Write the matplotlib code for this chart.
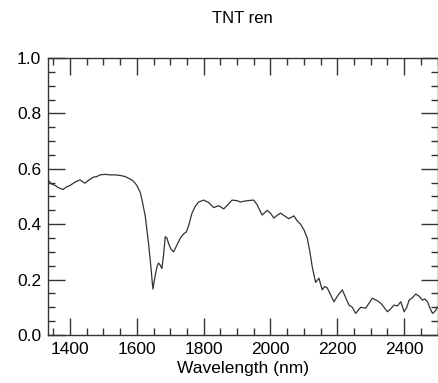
# TNT reflectance spectrum, redrawn from the reference figure
import matplotlib
matplotlib.use('Agg')
import matplotlib.pyplot as plt
from matplotlib.ticker import MultipleLocator

plt.rcParams['font.family'] = ['Liberation Sans', 'DejaVu Sans']

wavelength = [1334, 1345, 1355, 1365, 1379, 1390, 1400, 1410, 1420, 1430,
              1438, 1445, 1455, 1470, 1480, 1490, 1505, 1520, 1535, 1550,
              1565, 1580, 1590, 1600, 1610, 1615, 1625, 1635, 1642, 1648,
              1655, 1660, 1665, 1670, 1675, 1680, 1685, 1690, 1695, 1702,
              1710, 1720, 1730, 1740, 1748, 1755, 1765, 1775, 1785, 1800,
              1815, 1830, 1845, 1860, 1872, 1885, 1900, 1910, 1925, 1940,
              1950, 1960, 1975, 1990, 2000, 2010, 2020, 2030, 2042, 2055,
              2070, 2080, 2090, 2100, 2110, 2118, 2125, 2135, 2145, 2155,
              2162, 2170, 2180, 2190, 2200, 2215, 2225, 2235, 2245, 2255,
              2263, 2270, 2285, 2295, 2305, 2318, 2330, 2340, 2350, 2360,
              2370, 2380, 2390, 2400, 2408, 2415, 2425, 2435, 2445, 2455,
              2462, 2470, 2478, 2485, 2492, 2500]
reflectance = [0.560, 0.545, 0.540, 0.532, 0.525, 0.535, 0.540, 0.548, 0.555, 0.560,
               0.553, 0.548, 0.558, 0.570, 0.572, 0.578, 0.580, 0.578, 0.578, 0.576,
               0.572, 0.563, 0.555, 0.540, 0.515, 0.490, 0.430, 0.330, 0.246, 0.166,
               0.215, 0.245, 0.260, 0.252, 0.240, 0.290, 0.355, 0.350, 0.330, 0.310,
               0.300, 0.325, 0.350, 0.365, 0.372, 0.395, 0.440, 0.465, 0.480, 0.487,
               0.478, 0.460, 0.467, 0.455, 0.470, 0.487, 0.485, 0.480, 0.484, 0.486,
               0.487, 0.470, 0.433, 0.450, 0.440, 0.422, 0.432, 0.440, 0.430, 0.420,
               0.430, 0.412, 0.400, 0.380, 0.350, 0.300, 0.246, 0.190, 0.205, 0.163,
               0.175, 0.170, 0.145, 0.120, 0.140, 0.163, 0.135, 0.108, 0.100, 0.078,
               0.090, 0.100, 0.097, 0.115, 0.133, 0.125, 0.115, 0.100, 0.084, 0.095,
               0.108, 0.105, 0.120, 0.084, 0.100, 0.126, 0.135, 0.148, 0.140, 0.126,
               0.130, 0.120, 0.095, 0.078, 0.085, 0.100]

fig = plt.figure(figsize=(4.38, 3.83), dpi=100)
ax = fig.add_axes([0.1096, 0.1253, 0.8893, 0.7233])

ax.plot(wavelength, reflectance, color='#333333', lw=0.9)

ax.set_xlim(1334, 2500)
ax.set_ylim(0.0, 1.0)
ax.xaxis.set_major_locator(MultipleLocator(200))
ax.xaxis.set_minor_locator(MultipleLocator(50))
ax.yaxis.set_major_locator(MultipleLocator(0.2))
ax.yaxis.set_minor_locator(MultipleLocator(0.05))
ax.yaxis.set_major_formatter(plt.FuncFormatter(lambda v, p: f'{v:.1f}'))

ax.tick_params(which='both', direction='in', top=True, right=True,
               labelsize=12.5, color='#333333', width=1)
ax.tick_params(which='major', length=12, pad=5)
ax.tick_params(which='minor', length=5)
for s in ax.spines.values():
    s.set_linewidth(1)
    s.set_color('#333333')

ax.set_xlabel('Wavelength (nm)', fontsize=12.5, labelpad=3)
ax.set_title('TNT ren', fontsize=12, pad=25)

fig.savefig('out.png', dpi=100)
